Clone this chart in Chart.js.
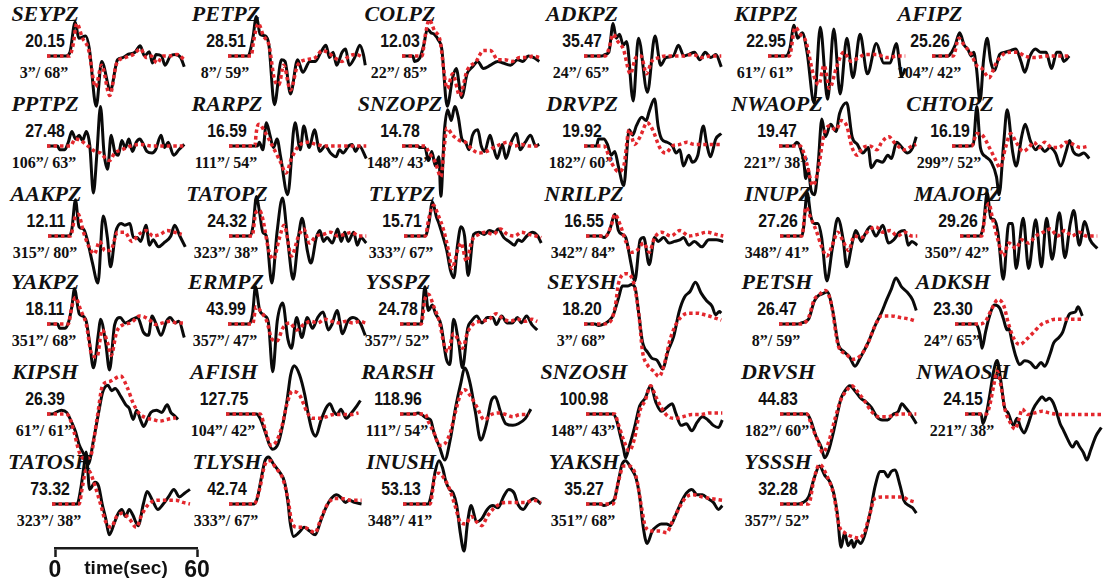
<!DOCTYPE html>
<html>
<head>
<meta charset="utf-8">
<title>Waveform fits</title>
<script src="https://cdn.jsdelivr.net/npm/chart.js@4.4.1/dist/chart.umd.min.js"></script>
<style>
  html, body { margin: 0; padding: 0; background: #fff; }
  #fig { position: relative; width: 1117px; height: 582px; overflow: hidden; background: #fff; }
  #fig canvas { position: absolute; z-index: 2; }
  .lbl { position: absolute; width: 120px; text-align: center; white-space: nowrap; color: #111; z-index: 1; }
  .stn { font: italic bold 22px/22px "Liberation Serif", "Times New Roman", serif; }
  .amp { font: bold 18px/18px "Liberation Sans", Arial, sans-serif; transform: scaleX(0.88); }
  .azd { font: bold 16px/16px "Liberation Serif", "Times New Roman", serif; }
  #scaleBar { left: 40px; top: 537px; }
</style>
</head>
<body>
<div id="fig">
  <canvas id="scaleBar" width="175" height="46"></canvas>
</div>
<script>
// station / component codes, peak amplitudes, azimuth and distance (deg)
const stations = [
  'SEYPZ', 'PETPZ', 'COLPZ', 'ADKPZ', 'KIPPZ', 'AFIPZ',
  'PPTPZ', 'RARPZ', 'SNZOPZ', 'DRVPZ', 'NWAOPZ', 'CHTOPZ',
  'AAKPZ', 'TATOPZ', 'TLYPZ', 'NRILPZ', 'INUPZ', 'MAJOPZ',
  'YAKPZ', 'ERMPZ', 'YSSPZ', 'SEYSH', 'PETSH', 'ADKSH',
  'KIPSH', 'AFISH', 'RARSH', 'SNZOSH', 'DRVSH', 'NWAOSH',
  'TATOSH', 'TLYSH', 'INUSH', 'YAKSH', 'YSSSH'
];
const peakAmps = [
  20.15, 28.51, 12.03, 35.47, 22.95, 25.26,
  27.48, 16.59, 14.78, 19.92, 19.47, 16.19,
  12.11, 24.32, 15.71, 16.55, 27.26, 29.26,
  18.11, 43.99, 24.78, 18.20, 26.47, 23.30,
  26.39, 127.75, 118.96, 100.98, 44.83, 24.15,
  73.32, 42.74, 53.13, 35.27, 32.28
];
const azimuths = [
  3, 8, 22, 24, 61, 104,
  106, 111, 148, 182, 221, 299,
  315, 323, 333, 342, 348, 350,
  351, 357, 357, 3, 8, 24,
  61, 104, 111, 148, 182, 221,
  323, 333, 348, 351, 357
];
const distances = [
  68, 59, 85, 65, 61, 42,
  63, 54, 43, 60, 38, 52,
  80, 38, 67, 84, 41, 42,
  68, 47, 52, 68, 59, 65,
  61, 42, 54, 43, 60, 38,
  38, 67, 41, 68, 52
];
const scaleTicks = [0, 30, 60];

// traces: [time (s), normalised amplitude]
const seypzObs = [[0,0],[8,0],[9.7,7],[11.9,63],[13.4,33],[16.4,37],[17.9,13],[20.8,-93],[23.1,-10],[26.8,-63],[29.8,-7],[32,-3],[34.2,3],[37.2,7],[39.4,19],[41.2,0],[43.2,8],[44.6,-13],[46.1,3],[48.4,0],[49.9,-17],[52.1,0],[54.3,3],[56.5,-3],[58,-20]];
const seypzSyn = [[0,0],[9.5,0],[11,20],[12.6,60],[15,33],[17.5,13],[20.5,-57],[23.1,-17],[26.5,-73],[29.5,-13],[33,-3],[36.5,3],[39.5,13],[42,-3],[44,0],[46.5,-13],[49,0],[52,0],[55,3],[58,-7]];
const petpzObs = [[0,0],[8.3,0],[9,3],[10.5,33],[12,73],[13.6,40],[15.8,37],[17.3,20],[19.6,-90],[22.6,-7],[24.1,-10],[26.4,-70],[29.4,-7],[31.6,-30],[34.6,-10],[36.9,-10],[39.2,7],[41.4,20],[42.9,-3],[44.4,7],[45.9,-17],[48.2,7],[49.7,13],[51.2,-17],[53.5,-3],[55.7,20],[57.2,3],[58,-17]];
const petpzSyn = [[0,0],[9.8,0],[10.8,27],[12.8,60],[15,37],[17.3,20],[19.6,-43],[21.5,-53],[23.5,-17],[26.4,-63],[29.4,-17],[33.1,-7],[36.9,-3],[39.8,10],[42,7],[45,-3],[48.2,-10],[51.2,0],[54.2,3],[57.2,-3]];
const colpzObs = [[0,0],[4.6,0],[5.3,-10],[7.6,-3],[9.2,20],[10.7,50],[12.2,43],[13.7,40],[15.3,30],[16.8,13],[19.1,-93],[21.4,-40],[22.9,-23],[25.2,-77],[27.5,-33],[29.8,-20],[32,-10],[34.4,-23],[37.4,-17],[40.5,-10],[42.7,-13],[45.8,-17],[48.9,-7],[51.1,-10],[53.4,0],[55.7,-3],[58,-10]];
const colpzSyn = [[0,0],[8.4,0],[9.9,40],[11.5,67],[13.7,47],[16,30],[19.1,-60],[21.4,-33],[24.4,-73],[27.5,-27],[31.3,-10],[34.4,10],[37.4,10],[40.5,-7],[43.5,-7],[46.6,-10],[49.6,-3],[52.7,-3],[55.7,0],[58,-3]];
const adkpzObs = [[0,0],[7.5,0],[9,3],[10.5,7],[12.3,60],[13.6,33],[15,40],[16.6,20],[18,27],[20.8,-83],[23,33],[26.8,-67],[30,37],[32.4,-17],[34.6,-3],[37.7,0],[39.9,20],[42.2,0],[44.4,3],[46.7,7],[48.9,-7],[51.2,7],[53.5,-3],[55.7,3],[58,-20]];
const adkpzSyn = [[0,0],[9,0],[10.5,13],[12.3,40],[14.3,27],[16.6,13],[19.6,-33],[21.9,-3],[24.1,0],[26.4,-33],[28.6,-10],[31.6,-3],[34.6,0],[38.4,0],[42.2,0],[45.9,3],[49.7,-3],[53.5,0],[58,0]];
const kippzObs = [[0,0],[7.6,0],[9.2,13],[11,57],[12.5,33],[14.5,43],[16.5,7],[19.5,-87],[22.1,53],[25.2,-80],[27.8,50],[30.5,-70],[33.3,33],[35.9,-40],[38.9,40],[42,-33],[45.8,23],[48.9,-13],[51.6,-13],[54.2,23],[56.5,-37],[58,-23]];
const kippzSyn = [[0,0],[9,0],[11.5,53],[13.7,40],[16,27],[19.1,-33],[21.4,-53],[23.7,-17],[26,-60],[29,-20],[32,7],[35.1,-10],[38.2,-3],[41.2,3],[45.8,3],[50.4,-3],[55,0],[58,0]];
const afipzObs = [[0,0],[6.8,0],[8.3,7],[9.8,20],[11.7,43],[13.6,20],[15.1,13],[16.6,0],[17.6,7],[18.8,-23],[20.3,-83],[21.8,-7],[23.3,33],[24.8,-10],[26.4,-27],[28.6,3],[30.9,7],[33.1,10],[35.4,13],[37.6,-10],[39.2,-30],[41.4,0],[43.7,13],[45.9,7],[48.2,7],[50.5,-23],[52.7,7],[54.2,7],[55.7,-10],[58,0]];
const afipzSyn = [[0,0],[9,0],[11.3,33],[13.6,20],[16.6,3],[18.8,-17],[21.1,-23],[24.1,-40],[27.1,-13],[30.1,3],[33.1,7],[36.1,7],[39.2,0],[43.7,-3],[48.2,0],[52.7,0],[58,0]];
const pptpzObs = [[0,0],[4.5,0],[5.3,-7],[7.5,-7],[9,7],[10.5,27],[12.1,13],[13.6,20],[15,10],[16.6,27],[18.1,0],[19.6,-87],[21.1,-13],[22.6,73],[24.1,-13],[25.6,-43],[27.1,20],[28.6,-10],[30.1,-17],[31.6,10],[33.1,-3],[34.6,13],[36.1,-10],[37.7,7],[39.2,13],[40.7,3],[42.2,-10],[44.4,-13],[45.9,-7],[48.2,20],[49.7,-3],[51.2,7],[53.5,-17],[55.7,-7],[58,3]];
const pptpzSyn = [[0,0],[9.8,0],[12,13],[14.3,10],[17.3,0],[20.3,-10],[22.6,-13],[24.8,-23],[26.4,-27],[28.6,-13],[31.6,-7],[35.4,0],[39.8,3],[44.4,0],[48.9,0],[53.5,0],[58,0]];
const rarpzObs = [[0,0],[12,0],[12.8,7],[14.3,-7],[15.8,43],[17.3,20],[18.8,-3],[20.3,13],[21.8,-20],[24.8,-90],[27.9,43],[30.1,-7],[31.6,37],[33.9,-3],[36.1,30],[38.4,-10],[40.7,0],[42.9,-13],[45.2,-20],[46.7,-7],[48.2,-13],[50.5,0],[52,3],[53.5,-10],[55,0],[58,-23]];
const rarpzSyn = [[0,0],[11,0],[11.4,20],[12,36],[12.8,40],[15,27],[18,3],[21.8,-30],[24.1,-50],[26.4,-23],[29.4,0],[33.1,7],[36.9,3],[40.7,0],[45.2,0],[49.7,0],[54.2,0],[58,0]];
const snzopzObs = [[0,0],[6.7,0],[7.4,-3],[9.7,-3],[11.2,-27],[12.6,-10],[14.1,-37],[15.6,-20],[16.4,-93],[17.9,27],[19.3,67],[20.8,47],[22.3,73],[23.8,53],[25.3,13],[26.8,7],[28.3,-7],[29.8,20],[32,30],[33.5,0],[34.9,-10],[37.2,20],[38.7,-3],[40.2,-23],[42.4,3],[43.9,-23],[46.1,7],[48.4,23],[49.9,-7],[52.1,7],[54.3,20],[56.5,0],[58,3]];
const snzopzSyn = [[0,0],[9.7,0],[11.2,-10],[12.6,-20],[14.1,-30],[16.4,-57],[17.9,0],[18.9,33],[21.4,20],[24.4,10],[26.8,7],[29.8,-7],[32.7,-13],[35.7,-10],[38.7,-3],[41.7,3],[44.6,7],[47.6,0],[50.6,3],[53.6,0],[58,0]];
const drvpzObs = [[0,0],[5.3,0],[6.1,13],[8.4,13],[9.9,3],[11.5,-17],[13,-10],[14.5,-37],[16.8,-73],[19.1,30],[20.6,20],[22.1,37],[24.4,53],[26.3,47],[27.5,63],[29.8,87],[31.3,37],[32.8,13],[35.1,7],[37.4,0],[38.9,-13],[40.5,-7],[42,-37],[44.3,-17],[45.8,-30],[48.1,-17],[50.4,37],[51.9,3],[53.4,-20],[55.7,13],[58,23]];
const drvpzSyn = [[0,0],[8.4,0],[11.5,-30],[14.5,-47],[16.8,-37],[19.1,30],[21.4,3],[23.7,17],[26.7,43],[29,30],[32,-3],[34.4,-13],[37.4,0],[40.5,3],[43.5,7],[46.6,3],[50.4,3],[54.2,3],[58,3]];
const nwaopzObs = [[0,0],[6,0],[7.5,7],[9,-3],[10.5,-30],[11.3,-60],[12.3,-43],[13.6,-83],[15,-90],[16.6,-30],[18.1,50],[19.6,17],[21.8,40],[24.1,27],[25.6,60],[28.6,80],[30.9,17],[33.1,3],[35.4,-13],[37.7,-3],[39,-40],[41.4,-27],[43.7,-30],[46,-17],[47.5,-23],[49.7,7],[52,-3],[54.2,-13],[56.5,-3],[58,17]];
const nwaopzSyn = [[0,0],[9,0],[10.5,-13],[12,-37],[14.3,-73],[16.6,-43],[18.8,17],[21.1,37],[24.1,30],[26.4,47],[28.6,37],[30.9,-3],[33.1,-17],[35.4,-3],[38.4,0],[41.4,-7],[43.4,7],[46.4,17],[49.4,3],[53.2,-7],[56.2,0],[58,3]];
const chtopzObs = [[0,0],[7.5,0],[9,3],[10.5,73],[12,-3],[14.3,-20],[16.6,-30],[18.8,-57],[19.9,-90],[21.8,3],[23.3,67],[25.6,-10],[27.1,-37],[29.4,17],[30.9,40],[33.1,10],[35.4,-7],[36.9,0],[39.2,-10],[41.4,-3],[43.7,-13],[45.9,-37],[48.2,-10],[49.7,10],[51.2,-10],[53.5,-17],[55.7,-13],[58,-23]];
const chtopzSyn = [[0,0],[8.3,0],[10.5,23],[12.8,20],[15.8,-3],[18.1,-23],[20.3,-40],[22.6,-3],[24.8,23],[27.1,7],[30.1,-10],[32.4,-3],[34.6,7],[36.9,-3],[39.2,7],[42.2,-3],[45.2,-3],[48.2,7],[51.2,3],[54.2,-3],[58,0]];
const aakpzObs = [[0,0],[9,0],[10.1,13],[11.6,67],[13.1,17],[15,13],[16.6,-7],[18.8,-50],[21.1,-87],[23.3,37],[25.1,-3],[26.4,-57],[28.6,7],[30.9,23],[32.4,20],[34.6,23],[36.1,-3],[37.7,-3],[39.2,-10],[41.4,20],[42.9,-17],[44.4,-7],[46.7,-20],[48.9,-13],[51.9,0],[53.5,20],[55.7,0],[58,-20]];
const aakpzSyn = [[0,0],[9.5,0],[11.3,33],[12.8,40],[15,7],[17.3,-20],[19.6,-33],[21.8,-10],[24.1,-27],[26.4,-27],[29.4,7],[32.4,7],[35.4,-10],[38.4,3],[41.4,10],[44.4,0],[47.4,3],[50.4,10],[53.5,7],[56.5,3]];
const tatopzObs = [[0,0],[9,0],[10.2,20],[11.6,73],[12.8,47],[14.3,7],[15.8,0],[18.1,-87],[20.3,7],[22.6,70],[24.8,-7],[27.1,-80],[29.4,0],[30.9,33],[33.1,-27],[34.6,-50],[36.9,-3],[38.4,10],[39.9,-10],[41.4,-3],[43.7,-13],[45.9,13],[47.4,-10],[48.9,7],[50.4,-10],[52.7,7],[54.2,-17],[55.7,-3],[58,-13]];
const tatopzSyn = [[0,0],[9.8,0],[11.3,43],[13,47],[14.5,27],[16.8,-27],[18.8,-43],[21.1,-7],[23.3,20],[26.4,-37],[29.4,0],[31.6,13],[33.9,-13],[36.9,0],[39.9,3],[42.9,7],[45.9,0],[48.9,3],[51.9,7],[54.9,0],[58,0]];
const tlypzObs = [[0,0],[9,0],[10.5,23],[12,63],[13.6,37],[15,20],[16.6,-3],[18.1,-27],[19.6,-63],[21.1,-77],[22.6,-17],[24.1,17],[25.6,0],[27.1,-73],[29.4,3],[31.6,7],[33.9,3],[36.1,10],[38.4,7],[39.8,13],[42.2,-3],[44.4,-10],[46.7,-17],[48.2,-7],[49.7,-10],[51.9,0],[54.2,7],[56.5,0],[58,-13]];
const tlypzSyn = [[0,0],[9,0],[10.5,33],[12.5,57],[14.3,40],[16.6,13],[18.8,-27],[20.3,-60],[22.6,-27],[24.1,-13],[26.4,-47],[28.6,-10],[31.6,3],[34.6,7],[37.7,3],[40.7,13],[43.7,3],[46.7,0],[49.7,7],[52.7,3],[55.7,0],[58,-3]];
const nrilpzObs = [[0,0],[6.1,0],[7.6,-3],[9.9,10],[12.2,40],[13.7,10],[15.3,3],[16.8,-3],[19.1,-53],[20.6,-83],[22.9,-7],[24.4,-3],[26.7,-53],[29,-3],[30.5,-10],[32.8,-3],[35.1,-13],[37.4,-10],[39.7,-7],[41.2,-3],[43.5,-17],[45.8,-10],[48.9,-20],[51.9,-7],[55,-7],[58,-10]];
const nrilpzSyn = [[0,0],[8.4,0],[10.7,20],[12.2,40],[14.5,20],[16.8,-10],[19.1,-30],[21.4,-27],[24.4,-13],[26.7,-30],[29,-3],[32,7],[35.9,0],[39.7,10],[43.5,0],[47.3,3],[51.1,7],[54.9,3],[58,0]];
const inupzObs = [[0,0],[9.2,0],[9.9,13],[11.5,80],[13,37],[14.5,23],[16,23],[17.6,-3],[19.8,-83],[22.1,-23],[24.4,33],[26.7,-7],[28.2,-57],[30.5,-13],[32,10],[34.4,-10],[35.9,3],[38.2,17],[40.5,0],[43.5,20],[45.8,-13],[48.1,-7],[50.4,7],[52.7,10],[54.2,-17],[55.7,-10],[58,-17]];
const inupzSyn = [[0,0],[9.2,0],[11,53],[13,33],[15.3,10],[17.6,-20],[19.8,-37],[22.1,-17],[24.4,7],[26.7,-10],[29,-27],[31.3,0],[34.4,-3],[37.4,10],[40.5,17],[43.5,7],[46.6,10],[49.6,0],[52.7,7],[55.7,0],[58,0]];
const majopzObs = [[0,0],[8.4,0],[9.9,20],[11.5,80],[13,33],[14.5,30],[16,7],[18.3,-80],[20.6,23],[22.1,23],[23.7,-60],[26.7,33],[29,-60],[32,30],[34.4,-57],[36.6,33],[38.9,-43],[42,43],[44.3,-40],[46.6,23],[48.1,47],[50.4,-17],[52.7,27],[55,-7],[58,-23]];
const majopzSyn = [[0,0],[9.2,0],[10.7,43],[12.2,60],[13.7,33],[16,-7],[18.3,-37],[20.6,-13],[23.7,-23],[26,-7],[29,-13],[32,0],[35.1,7],[38.2,13],[41.2,0],[44.3,10],[47.3,0],[50.4,7],[53.4,0],[58,0]];
const yakpzObs = [[0,0],[4.5,0],[5.3,-8],[7.5,-8],[9,2],[10.5,32],[11.6,65],[13.6,19],[15,15],[16.6,5],[18.1,-38],[19.6,-81],[21.8,-15],[22.6,9],[24.8,-35],[26.4,-85],[28.6,-1],[30.9,12],[33.1,2],[36.1,9],[38.3,12],[40.7,-15],[42.9,-21],[44.4,15],[45.9,2],[48.2,-21],[50.5,5],[52,12],[54.2,2],[55.7,5],[58,-25]];
const yakpzSyn = [[0,0],[9,0],[10.5,32],[12,49],[14.3,25],[16.6,-1],[18.8,-55],[21.1,-61],[23.3,-11],[25.6,-35],[27.1,-58],[29.4,-15],[32.4,-1],[35.4,2],[39.2,15],[42.9,9],[45.9,-1],[48.9,2],[51.9,5],[54.9,2],[58,2]];
const ermpzObs = [[0,0],[8.9,0],[10.4,19],[11.6,69],[13.4,25],[15.6,15],[17.1,2],[18.9,-88],[20.8,5],[23.1,39],[25.3,-28],[26.8,-45],[29,12],[31.2,-25],[33.5,12],[35.7,-8],[37.9,12],[40.2,22],[42.4,-11],[43.9,-1],[46.1,25],[48.4,-18],[50.6,5],[52.8,12],[55.8,2],[58,-21]];
const ermpzSyn = [[0,0],[10.4,0],[11.9,32],[14.1,22],[16.4,5],[18.6,-28],[20.8,-31],[23.1,-8],[26,2],[29,-11],[32,-1],[34.9,5],[37.9,2],[40.9,9],[43.9,5],[46.9,2],[49.9,5],[52.8,2],[55.8,5],[58,2]];
const ysspzObs = [[0,0],[8.3,0],[9,2],[10.5,69],[12,25],[13.6,35],[15,19],[17.3,-1],[19.6,-65],[21.1,-75],[22.6,9],[24.8,-35],[26.4,-81],[28.6,-8],[30.1,5],[32.4,15],[34.6,2],[36.9,12],[39.2,12],[40.7,-1],[42.9,15],[45.2,2],[47.4,2],[49.7,12],[51.2,2],[53.5,15],[55.7,-1],[58,-11]];
const ysspzSyn = [[0,0],[9,0],[10.5,45],[12,55],[14.3,32],[16.6,5],[18.8,-41],[20.3,-51],[22.6,-18],[24.8,-31],[26.4,-45],[28.6,-15],[31.6,2],[34.6,5],[37.7,9],[40.7,19],[43.7,9],[46.7,5],[49.7,9],[52.7,5],[55.7,9],[58,5]];
const seyshObs = [[0,0],[4.6,0],[6.2,-3],[8.5,0],[10.8,7],[12.4,17],[14.7,50],[16.2,70],[18.5,70],[20.1,73],[21.6,67],[23.2,17],[24.7,-33],[27,-53],[28.6,-63],[30.9,-67],[33.2,-83],[35.5,-50],[37.9,-23],[40.2,23],[42.5,50],[44.8,60],[47.1,77],[49.5,57],[51.8,43],[54.1,33],[55.6,17],[57.2,23],[58,20]];
const seyshSyn = [[0,0],[7.7,0],[10.8,3],[13.1,30],[14.7,77],[17.8,93],[20.9,77],[23.2,17],[24.7,-50],[27,-77],[29.4,-87],[31.7,-97],[34,-73],[36.3,-30],[38.6,-3],[41,13],[44.1,20],[47.9,20],[51,17],[54.1,13],[58,7]];
const petshObs = [[0,0],[7.8,0],[9.4,2],[12.5,9],[14.9,42],[16.5,52],[18,55],[20.4,59],[22.7,25],[25.1,-38],[27.4,-51],[29.8,-61],[32.1,-78],[34.5,-61],[37.6,-35],[40.8,-1],[43.1,19],[45.5,45],[47.5,65],[49.4,85],[51.7,69],[54.1,59],[56.4,45],[58,25]];
const petshSyn = [[0,0],[9.4,0],[12.5,12],[14.9,45],[17.2,55],[19.6,62],[22,39],[25.1,-41],[28.2,-55],[31.3,-65],[34.5,-58],[37.6,-35],[40.8,-1],[43.3,15],[47.3,15],[51.2,12],[55.1,9],[58,5]];
const adkshObs = [[0,0],[8.3,0],[9.1,-1],[10.6,-21],[11.4,-45],[12.9,-15],[14.4,12],[16.7,35],[18.9,29],[20.5,9],[22,-11],[22.7,-8],[24.2,-35],[25.8,-61],[27.3,-75],[29.5,-68],[31.8,-71],[34.1,-81],[36.4,-71],[37.9,-78],[40.2,-55],[41.7,-35],[43.9,-25],[45.5,-15],[47,5],[48.5,19],[50.8,22],[52,32],[53.8,15]];
const adkshSyn = [[0,0],[10.6,0],[12.9,5],[15.2,25],[18.2,45],[20.5,35],[22.7,-1],[25,-28],[27.3,-38],[30.3,-28],[33.3,-15],[36.4,-1],[39.4,5],[42.4,9],[45.5,9],[49.2,9],[53.8,9]];
const kipshObs = [[0,0],[2.3,0],[3.8,3],[6.1,7],[8.3,3],[10.6,-17],[12.1,-33],[13.6,-57],[15.9,-77],[17.4,-93],[19.7,-47],[22,7],[23.5,40],[25.8,53],[27.3,43],[28.8,47],[31.1,33],[33.3,17],[34.8,10],[36.4,-10],[37.9,7],[39.4,-10],[40.9,-23],[42.4,-10],[43.9,3],[46.2,7],[48.5,3],[50.8,17],[52.3,3],[53.8,-3],[55.3,-10]];
const kipshSyn = [[0,0],[7.6,0],[9.1,-3],[11.4,-33],[13.6,-70],[15.9,-83],[18.2,-80],[21.2,-7],[23.5,53],[26.5,60],[31.1,70],[34.1,47],[36.4,20],[38.6,3],[41.7,-7],[44.7,-10],[47.7,-13],[50.8,-10],[54.5,-7]];
const afishObs = [[0,0],[12.9,0],[14.4,-8],[16.7,-35],[18.2,-55],[19.7,-65],[22,-55],[24.2,-15],[25.8,25],[27.3,72],[28.8,89],[31.1,72],[33.3,35],[34.8,-1],[36.4,-31],[37.9,-41],[40.2,-11],[42.4,12],[43.9,19],[45.5,5],[47,-1],[48.5,9],[50.8,-8],[53,2],[55.3,15],[56.8,25]];
const afishSyn = [[0,0],[14.4,0],[16.7,-31],[19,-58],[21.2,-51],[23.5,-25],[25.8,19],[28,42],[31.1,35],[34.1,5],[36.4,-8],[39.4,-8],[42.4,-5],[45.5,-1],[49.2,-1],[53,-1],[56,2]];
const rarshObs = [[0,0],[6.1,0],[7.6,2],[9.1,-1],[11.4,-8],[12.9,-11],[14.4,-35],[16.7,-61],[18.9,-85],[21.2,-48],[23.5,12],[25.8,59],[27.3,85],[29.5,59],[31.8,5],[34.1,-48],[36.4,-21],[38.6,25],[40.2,32],[42.4,5],[44.7,-18],[47.7,-21],[50,-18],[53,-8],[55.3,9]];
const rarshSyn = [[0,0],[10.6,0],[12.1,-15],[14.4,-35],[16.7,-58],[18.9,-55],[21.2,-35],[23.5,5],[25.8,39],[27.3,45],[29.5,35],[32.6,12],[35.6,-11],[38.6,-1],[41.7,2],[44.7,-1],[47.7,-5],[50.8,-1],[54.5,-1]];
const snzoshObs = [[0,0],[11.4,0],[12.9,-11],[14.4,-38],[15.9,-65],[16.7,-81],[18.2,-61],[20.5,-25],[22.7,15],[25,29],[27.3,52],[29.5,22],[31.8,5],[34.1,12],[36.4,19],[37.9,2],[40.2,-21],[42.4,-18],[44.7,-31],[47,-15],[49.2,-5],[51.5,-11],[53.8,-21],[56,-25],[57.6,-11]];
const snzoshSyn = [[0,0],[12.1,0],[13.6,-18],[15.9,-48],[18.2,-68],[20.5,-45],[22.7,5],[25,25],[27.3,52],[29.5,32],[31.8,12],[34.8,-5],[37.9,-8],[40.9,-5],[44.7,-1],[48.5,-1],[52.3,2],[57.6,2]];
const drvshObs = [[0,0],[11.4,0],[12.9,-11],[15.2,-41],[17.4,-61],[18.9,-81],[20.5,-68],[22.7,-31],[24.2,-1],[25.8,29],[27.3,42],[29.5,52],[31.8,42],[34.1,29],[36.4,22],[38.6,12],[40.9,-5],[43.2,-11],[45.5,-11],[47.7,-1],[50,5],[51.5,19],[53,12],[55.3,-1],[57.6,-18]];
const drvshSyn = [[0,0],[11.4,0],[13.6,-25],[15.9,-48],[18,-71],[20.3,-55],[23.3,-8],[25.6,25],[27.9,42],[30.3,52],[32.6,42],[35.6,25],[38.6,5],[41.7,-5],[45.5,-5],[49.2,-1],[53,0],[57.6,0]];
const nwaoshObs = [[0,0],[6.8,0],[7.6,-18],[9.1,2],[10.6,39],[12.1,79],[13.6,99],[15.2,59],[16.7,12],[18.2,2],[20.5,-21],[22,-8],[23.5,-25],[25,-35],[26.5,-21],[28.8,9],[31.1,25],[32.6,32],[34.1,25],[35.6,29],[37.1,22],[38.6,5],[40.2,-18],[41.7,-31],[43.2,-45],[45.5,-61],[47,-51],[48.5,-61],[50,-71],[51.5,-85],[53,-68],[55.3,-41],[57.6,-25]];
const nwaoshSyn = [[0,0],[9.1,0],[10.6,19],[12.1,52],[13.6,79],[15.2,52],[16.7,12],[19,-15],[21.2,-28],[22.7,-11],[24.2,9],[26.5,-1],[29.5,2],[32.6,5],[35.6,2],[40.2,-1],[44.7,-1],[49.2,-1],[53.8,-1],[57.6,-1]];
const tatoshObs = [[0,0],[10.6,0],[12.1,27],[13.6,73],[14.4,96],[15.9,27],[18.2,40],[19.7,33],[21.2,0],[22.7,-27],[24.2,-57],[26.5,-33],[28,-17],[29.5,-10],[31.1,-23],[32.6,-10],[34.1,-20],[36.4,-40],[38.6,0],[40.2,23],[42.4,7],[44.7,-10],[47,0],[49.2,13],[51.5,27],[53.8,13],[56,20],[58.3,27]];
const tatoshSyn = [[0,0],[11.4,0],[12.9,33],[14.4,63],[15.9,60],[18.2,33],[20.5,0],[22.7,-33],[25,-43],[27.3,-23],[29.5,-17],[32.6,-27],[35.6,-43],[37.9,-20],[40.9,0],[44.7,7],[48.5,7],[52.3,7],[55.3,3],[58.3,0]];
const tlyshObs = [[0,0],[10.6,0],[12.1,13],[13.6,47],[15.2,80],[16.7,87],[18.9,73],[21.2,60],[23.5,40],[25,0],[25.8,-33],[27.3,-60],[29.5,-53],[31.8,-43],[34.1,-50],[36.4,-57],[38.6,-33],[40.9,-7],[43.2,10],[45.5,17],[47.7,10],[49.2,3],[50.8,7],[53,3],[56,0]];
const tlyshSyn = [[0,0],[10.6,0],[12.9,27],[15.2,73],[17.4,80],[19.7,67],[22.7,47],[25,7],[26.5,-33],[28.8,-43],[31.8,-43],[34.8,-50],[36.4,-53],[38.6,-30],[41.7,0],[44.7,10],[47.7,10],[51.5,7],[56,7]];
const inushObs = [[0,0],[10.6,0],[12.1,20],[13.6,60],[15.2,80],[16.7,67],[18.2,40],[19.7,27],[21.2,20],[22.7,-3],[24.2,-53],[25.8,-87],[27.3,-33],[28.8,-3],[31.1,-33],[33.3,-27],[35.6,-10],[37.9,-3],[40.2,-7],[42.4,13],[44.7,27],[47,20],[48.5,0],[50.8,-10],[53,3],[55.3,10],[58.3,0]];
const inushSyn = [[0,0],[11.4,0],[13.6,53],[15.2,57],[17.4,47],[19.7,27],[22,-3],[24.2,-33],[26.5,-37],[28.8,-23],[31.1,-33],[33.3,-40],[35.6,-23],[37.9,-10],[40.9,0],[44,3],[47.7,3],[51.5,3],[55.3,7],[58.3,3]];
const yakshObs = [[0,0],[6.1,0],[7.6,-3],[9.8,1],[12.1,10],[13.6,40],[15.2,73],[16.7,80],[18.9,67],[21.2,47],[22.7,13],[24.2,-43],[25.8,-73],[28,-50],[30.3,-40],[31.8,-37],[34.1,-37],[35.6,-40],[37.9,-20],[40.2,3],[42.4,20],[44.7,27],[47,17],[49.2,17],[51.5,10],[53.8,3],[56,-10],[57.6,-3]];
const yakshSyn = [[0,0],[11.4,0],[13.6,40],[15.9,70],[18.2,70],[21.2,50],[23.5,-7],[25.2,-43],[28.2,-50],[31.2,-50],[34.1,-53],[36.4,-33],[39.4,-7],[42.4,13],[45.5,17],[49.2,13],[53,10],[57.6,7]];
const yssshObs = [[0,0],[7.6,0],[9.8,3],[12.1,13],[14.4,47],[16.7,70],[18.9,53],[21.2,40],[22.7,20],[24.2,-17],[25.8,-80],[27.3,-53],[28.8,-77],[30.3,-67],[31.1,-80],[32.6,-67],[34.1,-73],[35.6,-60],[37.9,-20],[40.2,33],[42.4,60],[44,60],[45.5,50],[47,60],[48.5,63],[50.8,33],[52.3,7],[54.5,-3],[56,-7],[57.6,-17]];
const yssshSyn = [[0,0],[12.1,0],[14.4,47],[16.7,73],[19.7,53],[22.7,17],[25,-40],[27.3,-53],[30.3,-60],[33.3,-63],[35.6,-53],[37.9,-20],[40,10],[43.9,13],[47.7,13],[51.5,13],[54.5,7],[57.6,3]];

const observed = [
  seypzObs, petpzObs, colpzObs, adkpzObs, kippzObs, afipzObs,
  pptpzObs, rarpzObs, snzopzObs, drvpzObs, nwaopzObs, chtopzObs,
  aakpzObs, tatopzObs, tlypzObs, nrilpzObs, inupzObs, majopzObs,
  yakpzObs, ermpzObs, ysspzObs, seyshObs, petshObs, adkshObs,
  kipshObs, afishObs, rarshObs, snzoshObs, drvshObs, nwaoshObs,
  tatoshObs, tlyshObs, inushObs, yakshObs, yssshObs
];
const synthetic = [
  seypzSyn, petpzSyn, colpzSyn, adkpzSyn, kippzSyn, afipzSyn,
  pptpzSyn, rarpzSyn, snzopzSyn, drvpzSyn, nwaopzSyn, chtopzSyn,
  aakpzSyn, tatopzSyn, tlypzSyn, nrilpzSyn, inupzSyn, majopzSyn,
  yakpzSyn, ermpzSyn, ysspzSyn, seyshSyn, petshSyn, adkshSyn,
  kipshSyn, afishSyn, rarshSyn, snzoshSyn, drvshSyn, nwaoshSyn,
  tatoshSyn, tlyshSyn, inushSyn, yakshSyn, yssshSyn
];

// panel placement: x where each trace starts, zero line y per row
const panelX = [
  47, 228, 402, 584, 768, 932,
  47, 229, 402, 584, 779, 952,
  48, 229, 404, 586, 780, 960,
  47, 228, 400, 584, 779, 955,
  47, 226, 400, 586, 780, 965,
  52, 229, 403, 586, 780
];
const rowBase = [56, 146, 236, 324, 414, 504];

const fig = document.getElementById('fig');

function addLabel(cls, text, cx, top) {
  const d = document.createElement('div');
  d.className = 'lbl ' + cls;
  d.textContent = text;
  d.style.left = (cx - 60) + 'px';
  d.style.top = top + 'px';
  fig.appendChild(d);
}

const toPoints = (pairs) => pairs.map(([t, a]) => ({ x: t, y: a }));

stations.forEach((name, i) => {
  const x0 = panelX[i];
  const y0 = rowBase[Math.floor(i / 6)];

  addLabel('stn', name, x0 - 2, y0 - 53);
  addLabel('amp', peakAmps[i].toFixed(2), x0 - 2, y0 - 24);
  addLabel('azd', azimuths[i] + '\u201D/ ' + distances[i] + '\u201D', x0 - 3, y0 + 9);

  const canvas = document.createElement('canvas');
  canvas.width = 152;
  canvas.height = 170;
  canvas.style.left = (x0 - 5) + 'px';
  canvas.style.top = (y0 - 85) + 'px';
  fig.appendChild(canvas);

  new Chart(canvas, {
    type: 'line',
    data: {
      datasets: [
        {
          label: 'synthetic',
          data: toPoints(synthetic[i]),
          borderColor: '#e3272d',
          borderWidth: 3.5,
          borderDash: [3.5, 3],
          pointRadius: 0,
          fill: false,
          cubicInterpolationMode: 'monotone',
          clip: false
        },
        {
          label: 'observed',
          data: toPoints(observed[i]),
          borderColor: '#0a0a0a',
          borderWidth: 3,
          pointRadius: 0,
          fill: false,
          cubicInterpolationMode: 'monotone',
          clip: false
        }
      ]
    },
    options: {
      responsive: false,
      animation: false,
      events: [],
      layout: { padding: { left: 5, right: 5, top: 0, bottom: 0 } },
      plugins: { legend: { display: false }, tooltip: { enabled: false } },
      scales: {
        x: { type: 'linear', min: 0, max: 60, display: false },
        y: { min: -157, max: 157, display: false }
      }
    }
  });
});

// time scale bar
new Chart(document.getElementById('scaleBar'), {
  type: 'line',
  data: { datasets: [] },
  options: {
    responsive: false,
    animation: false,
    events: [],
    layout: { padding: { left: 15, right: 18, top: 0, bottom: 0 } },
    plugins: { legend: { display: false }, tooltip: { enabled: false } },
    scales: {
      y: { display: false },
      x: {
        type: 'linear',
        min: 0,
        max: 60,
        position: 'bottom',
        afterBuildTicks: (axis) => { axis.ticks = scaleTicks.map((v) => ({ value: v })); },
        afterFit: (axis) => { axis.height = 35; },
        border: { display: true, color: '#1a1a1a', width: 2.5 },
        grid: {
          drawOnChartArea: false,
          tickLength: 9,
          tickWidth: 2.5,
          tickColor: (c) => (c.tick && c.tick.value === 30 ? 'rgba(0,0,0,0)' : '#1a1a1a')
        },
        ticks: {
          autoSkip: false,
          maxRotation: 0,
          padding: 0,
          color: '#111',
          callback: (v) => (v === 30 ? 'time(sec)' : String(v)),
          font: (c) => ({
            family: '"Liberation Sans", Arial, sans-serif',
            weight: 'bold',
            size: c.tick && c.tick.value === 30 ? 19 : 23
          })
        }
      }
    }
  }
});
</script>
</body>
</html>
